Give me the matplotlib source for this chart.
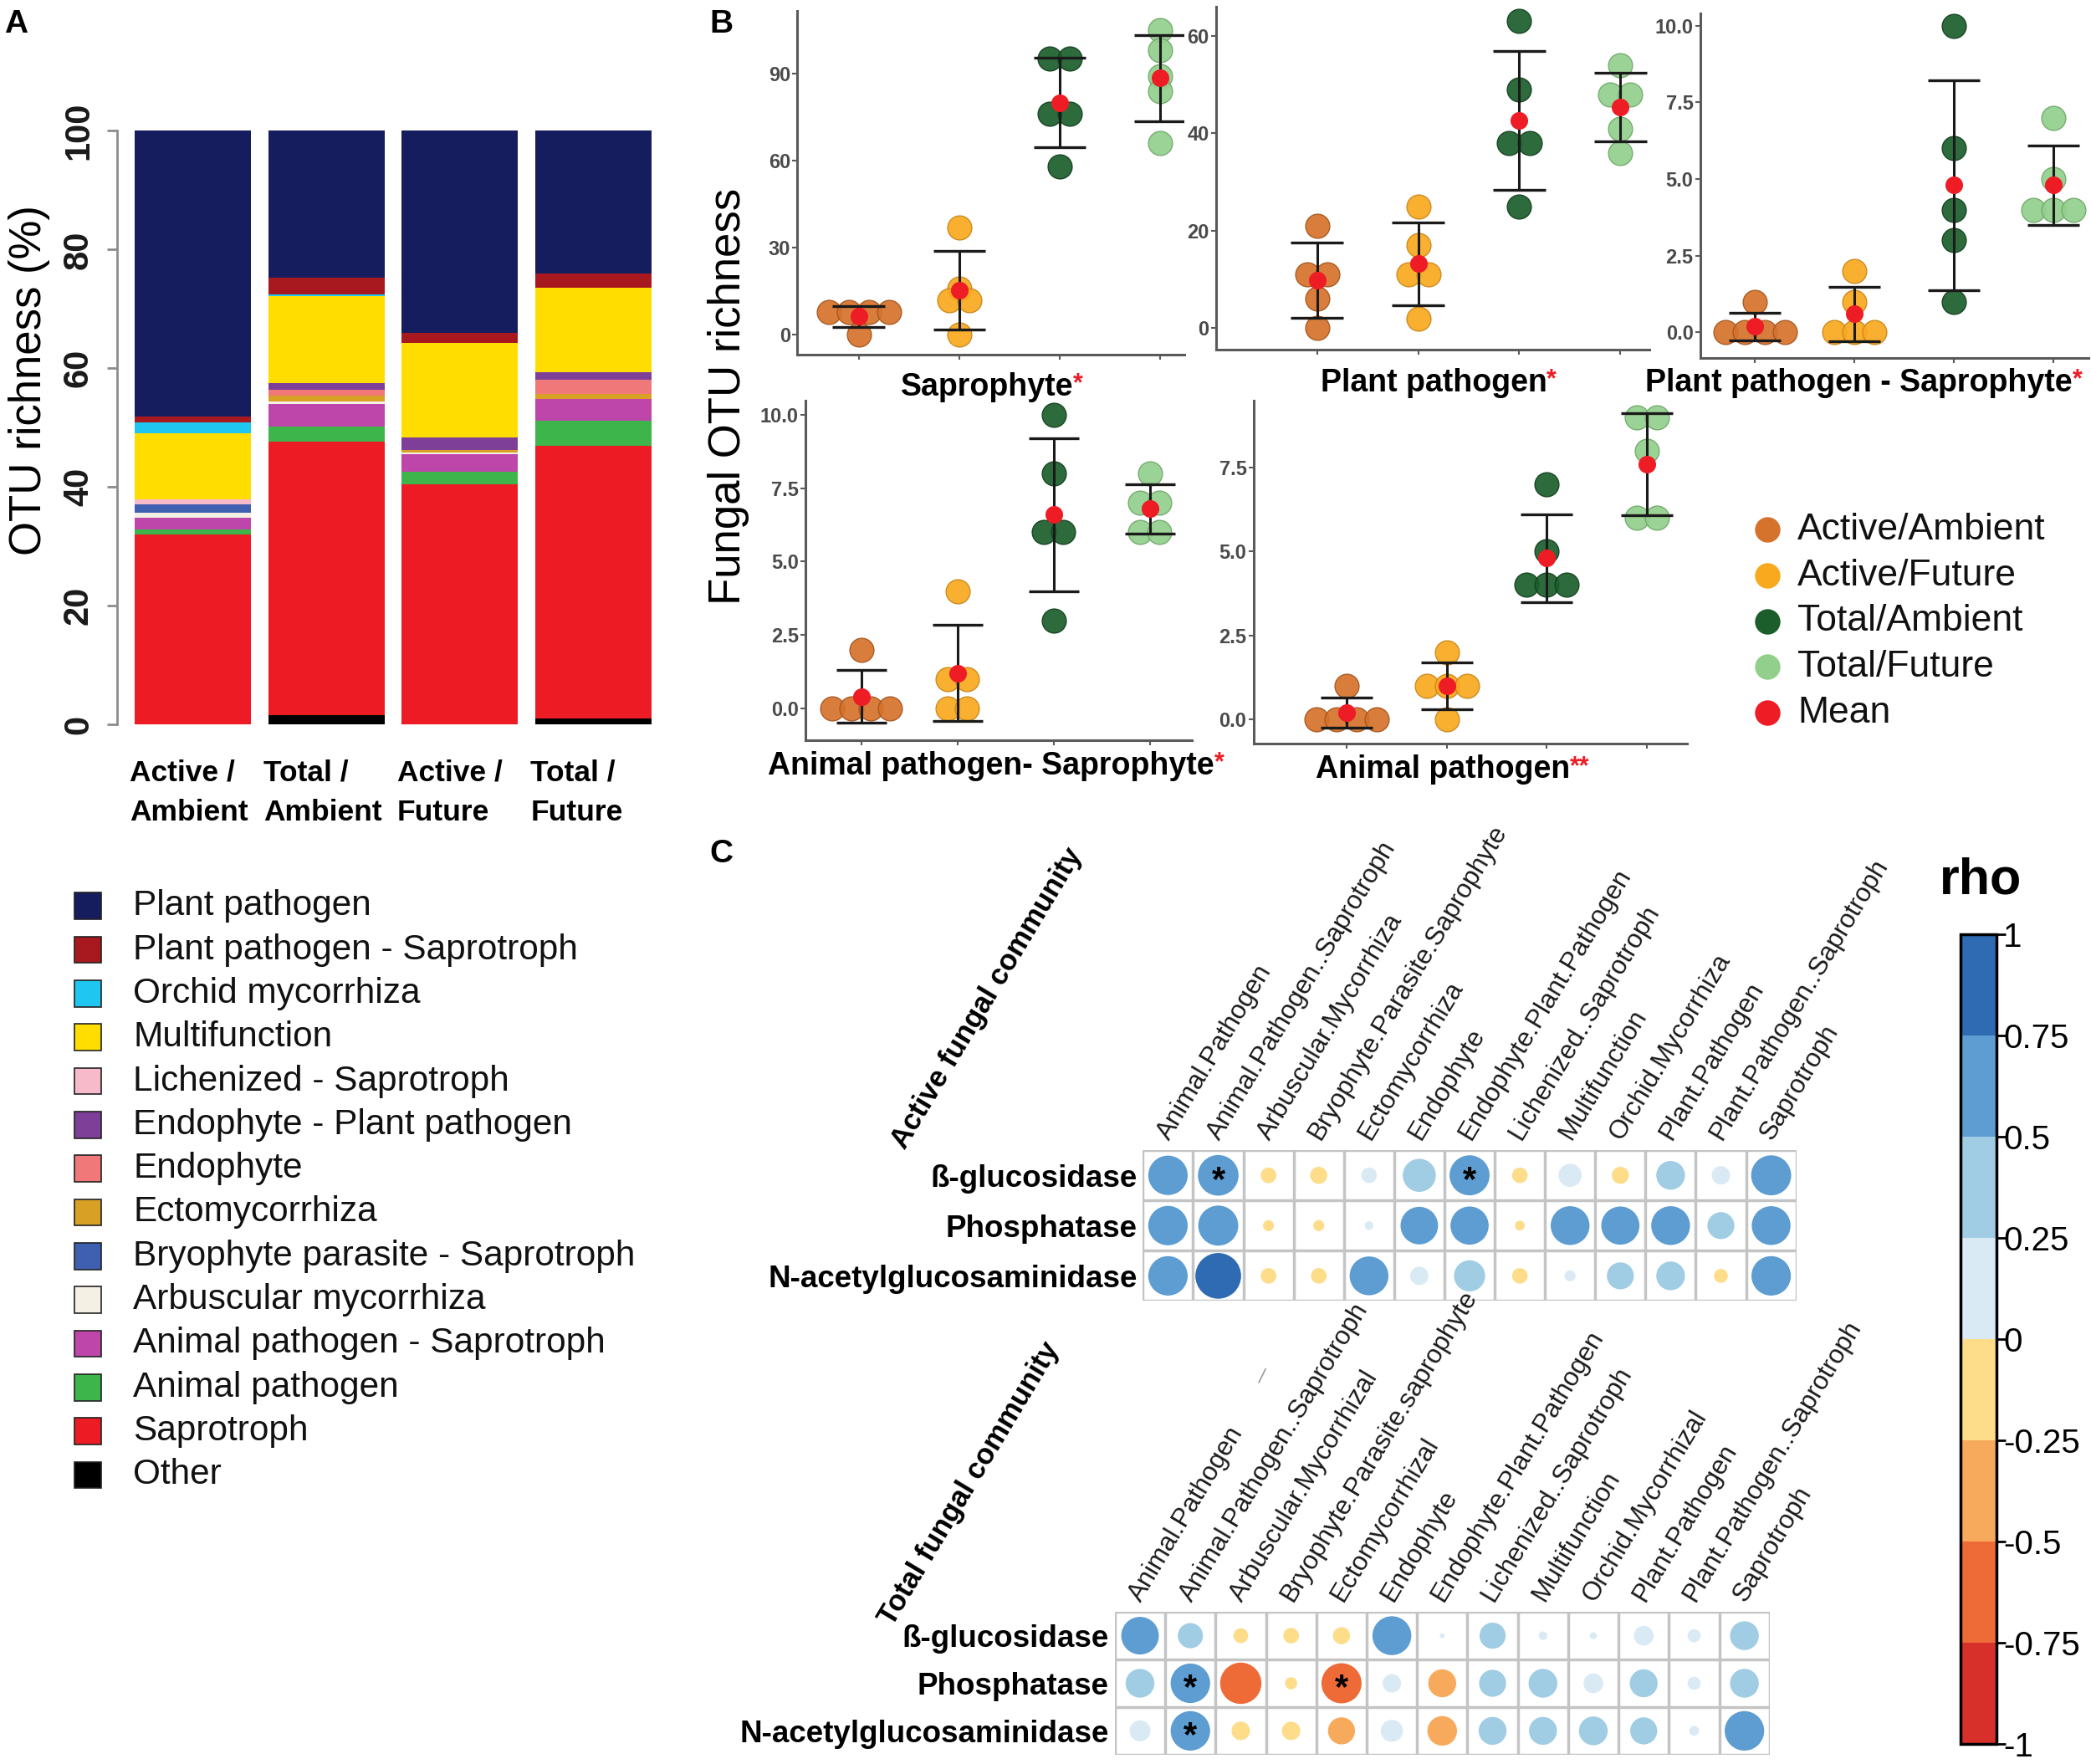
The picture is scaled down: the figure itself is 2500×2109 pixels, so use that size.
import matplotlib
matplotlib.use("Agg")
import matplotlib.pyplot as plt
import numpy as np
from matplotlib.cm import ScalarMappable
from matplotlib.colors import BoundaryNorm, ListedColormap
from matplotlib.patches import Ellipse, Rectangle

plt.rcParams["font.family"] = ["Liberation Sans", "DejaVu Sans"]

# ---------------- panel A: guild composition (% of OTU richness) ----------------
bar_groups = ["Active /\nAmbient", "Total /\nAmbient", "Active /\nFuture", "Total /\nFuture"]
guilds = ["Other", "Saprotroph", "Animal pathogen", "Animal pathogen - Saprotroph",
          "Arbuscular mycorrhiza", "Bryophyte parasite - Saprotroph", "Ectomycorrhiza",
          "Endophyte", "Endophyte - Plant pathogen", "Lichenized - Saprotroph",
          "Multifunction", "Orchid mycorrhiza", "Plant pathogen - Saprotroph", "Plant pathogen"]
guild_colors = ["#000000", "#ED1C24", "#3DB54A", "#BE45AA", "#F5F0E4", "#3F5FB0", "#D8A126",
                "#F07878", "#7E3F98", "#F6BACB", "#FFDD00", "#1EC6F0", "#A8191F", "#161D5E"]
# bottom -> top, same order as guilds
active_ambient = [0.0, 32.0, 0.9, 1.9, 0.9, 1.4, 0.0, 0.0, 0.0, 0.8, 11.1, 1.9, 1.0, 48.1]
total_ambient = [1.6, 46.1, 2.5, 3.8, 0.4, 0.0, 1.0, 1.0, 1.1, 0.0, 14.7, 0.3, 2.7, 24.8]
active_future = [0.0, 40.5, 2.1, 2.9, 0.3, 0.0, 0.4, 0.0, 2.2, 0.0, 15.8, 0.0, 1.7, 34.1]
total_future = [1.0, 46.0, 4.2, 3.7, 0.0, 0.0, 0.8, 2.4, 1.2, 0.0, 14.2, 0.0, 2.5, 24.0]

# ---------------- panel B: OTU richness per replicate ----------------
treatments = ["Active/Ambient", "Active/Future", "Total/Ambient", "Total/Future"]
treat_colors = ["#D5722B", "#F9A91E", "#1B5E2C", "#93CF8C"]
treat_edges = ["#A4561F", "#C9861A", "#123F1E", "#6FA86A"]
mean_color = "#EE1C25"

saprophyte = [[8, 8, 8, 8, 0], [37, 16, 12, 12, 0], [95, 95, 76, 76, 58], [105, 98, 89, 84, 66]]
plant_pathogen = [[21, 11, 11, 6, 0], [25, 17, 11, 11, 2], [63, 49, 38, 38, 25], [54, 48, 48, 41, 36]]
pp_saprophyte = [[0, 0, 0, 0, 1], [0, 0, 0, 1, 2], [10, 6, 4, 3, 1], [7, 5, 4, 4, 4]]
ap_saprophyte = [[0, 0, 0, 0, 2], [4, 1, 1, 0, 0], [10, 8, 6, 6, 3], [8, 7, 7, 6, 6]]
animal_pathogen = [[0, 0, 0, 0, 1], [2, 1, 1, 1, 0], [7, 5, 4, 4, 4], [9, 9, 8, 6, 6]]

# ---------------- panel C: Spearman rho, enzymes vs guild richness ----------------
enzymes = ["ß-glucosidase", "Phosphatase", "N-acetylglucosaminidase"]
active_cols = ["Animal.Pathogen", "Animal.Pathogen..Saprotroph", "Arbuscular.Mycorrhiza",
               "Bryophyte.Parasite.Saprophyte", "Ectomycorrhiza", "Endophyte",
               "Endophyte.Plant.Pathogen", "Lichenized..Saprotroph", "Multifunction",
               "Orchid.Mycorrhiza", "Plant.Pathogen", "Plant.Pathogen..Saprotroph", "Saprotroph"]
total_cols = ["Animal.Pathogen", "Animal.Pathogen..Saprotroph", "Arbuscular.Mycorrhizal",
              "Bryophyte.Parasite.saprophyte", "Ectomycorrhizal", "Endophyte",
              "Endophyte.Plant.Pathogen", "Lichenized..Saprotroph", "Multifunction",
              "Orchid.Mycorrhizal", "Plant.Pathogen", "Plant.Pathogen..Saprotroph", "Saprotroph"]
active_rho = [
    [0.64, 0.68, -0.10, -0.12, 0.10, 0.45, 0.66, -0.10, 0.22, -0.12, 0.34, 0.14, 0.66],
    [0.64, 0.66, -0.05, -0.05, 0.03, 0.58, 0.60, -0.04, 0.62, 0.60, 0.62, 0.30, 0.62],
    [0.64, 0.86, -0.10, -0.10, 0.62, 0.14, 0.40, -0.10, 0.05, 0.30, 0.34, -0.08, 0.64],
]
active_sig = [(0, 1), (0, 6)]
total_rho = [
    [0.58, 0.26, -0.09, -0.10, -0.12, 0.62, 0.01, 0.28, 0.03, 0.02, 0.16, 0.07, 0.34],
    [0.34, 0.64, -0.70, -0.06, -0.66, 0.14, -0.32, 0.30, 0.34, 0.16, 0.32, 0.07, 0.34],
    [0.18, 0.64, -0.14, -0.14, -0.30, 0.20, -0.36, 0.32, 0.32, 0.34, 0.30, 0.04, 0.64],
]
total_sig = [(1, 1), (1, 4), (2, 1)]
rho_bounds = [-1, -0.75, -0.5, -0.25, 0, 0.25, 0.5, 0.75, 1]
rho_colors = ["#D7302A", "#EE6A37", "#F8AA5C", "#FDDD8A", "#DAEAF4", "#A0CDE4", "#5D9DD1", "#2F6BB2"]
rho_ticks = [1, 0.75, 0.5, 0.25, 0, -0.25, -0.5, -0.75, -1]
rho_ticklabels = ["1", "0.75", "0.5", "0.25", "0", "-0.25", "-0.5", "-0.75", "-1"]

# layout is read on a 1568 x 1322 grid of the reference
W, H = 1568.0, 1322.0


def fx(x):
    return x / W


def fy(y):
    return 1 - y / H


def box(x0, y0, x1, y1):
    return [fx(x0), fy(y1), fx(x1) - fx(x0), fy(y0) - fy(y1)]


def dot_offsets(values, step):
    vals = np.asarray(values, dtype=float)
    offs = np.zeros(len(vals))
    for v in np.unique(vals):
        idx = np.where(vals == v)[0]
        offs[idx] = (np.arange(len(idx)) - (len(idx) - 1) / 2) * step
    return offs


fig = plt.figure(figsize=(25, 21.09), dpi=100)

# ---- A: stacked bars
ax_a = fig.add_axes(box(88, 98, 495, 543))
table = np.array([active_ambient, total_ambient, active_future, total_future])
xpos = np.arange(len(bar_groups))
bottom = np.zeros(len(bar_groups))
for k in range(len(guilds)):
    ax_a.bar(xpos, table[:, k], 0.87, bottom=bottom, color=guild_colors[k], linewidth=0)
    bottom += table[:, k]
ax_a.set_xlim(-0.565, 3.5)
ax_a.set_ylim(0, 100)
for side in ["top", "right", "bottom"]:
    ax_a.spines[side].set_visible(False)
ax_a.spines["left"].set_color("#8c8c8c")
ax_a.spines["left"].set_linewidth(2)
ax_a.set_xticks([])
ax_a.set_yticks(range(0, 101, 20))
ax_a.tick_params(axis="y", colors="#8c8c8c", length=9, width=2, labelcolor="#1a1a1a",
                 labelsize=30, pad=10, labelrotation=90)
for lab in ax_a.get_yticklabels():
    lab.set_fontweight("bold")
    lab.set_va("center")
for i, lab in enumerate(bar_groups):
    ax_a.text(xpos[i] - 0.47, -0.058, lab, transform=ax_a.get_xaxis_transform(),
              ha="left", va="top", fontsize=25.5, fontweight="bold", linespacing=1.55)

# ---- B: richness dot plots
def draw_richness(pos, groups, xlim, ylim, yticks, yticklabels):
    ax = fig.add_axes(box(*pos))
    cats = np.arange(1, 5)
    for i, vals in enumerate(groups):
        offs = dot_offsets(vals, 0.2)
        ax.scatter(cats[i] + offs, vals, s=430, color=treat_colors[i], edgecolors=treat_edges[i],
                   linewidths=1.0, alpha=0.92, zorder=2)
        m = np.mean(vals)
        sd = np.std(vals, ddof=1)
        ax.vlines(cats[i], m - sd, m + sd, color="#1a1a1a", lw=2.2, zorder=3)
        ax.hlines([m - sd, m + sd], cats[i] - 0.26, cats[i] + 0.26, color="#1a1a1a", lw=2.4, zorder=3)
        ax.scatter([cats[i]], [m], s=230, color=mean_color, linewidths=0, zorder=4)
    ax.set_xlim(*xlim)
    ax.set_ylim(*ylim)
    ax.set_xticks(cats)
    ax.set_xticklabels([])
    ax.set_yticks(yticks)
    ax.set_yticklabels(yticklabels)
    for side in ["top", "right"]:
        ax.spines[side].set_visible(False)
    for side in ["left", "bottom"]:
        ax.spines[side].set_color("#5a5a5a")
        ax.spines[side].set_linewidth(2.2)
    ax.tick_params(colors="#5a5a5a", length=4, width=1.5, labelcolor="#4a4a4a", labelsize=17, pad=2)
    for lab in ax.get_yticklabels():
        lab.set_fontweight("bold")
    ax.set_facecolor("none")
    return ax


ticks10 = [0, 2.5, 5, 7.5, 10]
labels10 = ["0.0", "2.5", "5.0", "7.5", "10.0"]
draw_richness((598, 8, 888, 266), saprophyte, (0.39, 4.24), (-6.9, 111.6), [0, 30, 60, 90], ["0", "30", "60", "90"])
draw_richness((912, 5, 1237, 262), plant_pathogen, (0.0, 4.29), (-4.4, 66), [0, 20, 40, 60], ["0", "20", "40", "60"])
draw_richness((1275, 10, 1566, 268), pp_saprophyte, (0.45, 4.35), (-0.82, 10.4), ticks10, labels10)
draw_richness((604, 300, 894, 555), ap_saprophyte, (0.42, 4.44), (-1.1, 10.5), ticks10, labels10)
draw_richness((940, 300, 1265, 557), animal_pathogen, (0.07, 4.4), (-0.71, 9.5), ticks10[:4], labels10[:4])

# ---- C: correlation grids
cmap = ListedColormap(rho_colors)
norm = BoundaryNorm(rho_bounds, cmap.N)


def draw_corr(pos, rho, sig, col_labels):
    ax = fig.add_axes(box(*pos))
    rho = np.array(rho)
    nrow, ncol = rho.shape
    cell_w = (pos[2] - pos[0]) / ncol
    cell_h = (pos[3] - pos[1]) / nrow
    ax.set_xlim(0, ncol)
    ax.set_ylim(nrow, 0)
    for i in range(nrow):
        for j in range(ncol):
            d = 0.98 * np.sqrt(abs(rho[i, j]))
            ax.add_patch(Ellipse((j + 0.5, i + 0.5), d, d * cell_w / cell_h,
                                 facecolor=cmap(norm(rho[i, j])), edgecolor="none"))
    for i, j in sig:
        ax.text(j + 0.5, i + 0.62, "*", ha="center", va="center", fontsize=30, fontweight="bold")
    ax.hlines(range(nrow + 1), 0, ncol, color="#c4c4c4", lw=2.5)
    ax.vlines(range(ncol + 1), 0, nrow, color="#c4c4c4", lw=2.5)
    for side in ax.spines:
        ax.spines[side].set_visible(False)
    ax.set_xticks([])
    ax.set_yticks(np.arange(nrow) + 0.5)
    ax.set_yticklabels(enzymes, fontsize=26.5, fontweight="bold")
    ax.tick_params(axis="y", length=0, pad=5)
    for j, lab in enumerate(col_labels):
        ax.annotate(lab, xy=(j + 0.5, 0), xytext=(-4, 11), textcoords="offset points",
                    rotation=59, rotation_mode="anchor", ha="left", va="center",
                    fontsize=22.5, color="#1a1a1a", annotation_clip=False)
    return ax


draw_corr((857, 862, 1347, 975), active_rho, active_sig, active_cols)
draw_corr((836, 1208, 1327, 1315), total_rho, total_sig, total_cols)

cax = fig.add_axes(box(1470, 700, 1497, 1307))
cb = fig.colorbar(ScalarMappable(norm=norm, cmap=cmap), cax=cax, ticks=rho_ticks)
cb.ax.set_yticklabels(rho_ticklabels)
cb.outline.set_linewidth(2.5)
cb.ax.tick_params(length=8, width=2, labelsize=29, pad=-2)

# ---- overlay: panel letters, titles, legends
ov = fig.add_axes([0, 0, 1, 1], facecolor="none")
ov.set_xlim(0, 1)
ov.set_ylim(0, 1)
ov.axis("off")

for letter, (x, y) in zip("ABC", [(12, 18), (541, 18), (541, 640)]):
    ov.text(fx(x), fy(y), letter, ha="center", va="center", fontsize=28, fontweight="bold")

ov.text(fx(22), fy(285), "OTU richness (%)", rotation=90, ha="center", va="center", fontsize=38)
ov.text(fx(546), fy(297), "Fungal OTU richness", rotation=90, ha="center", va="center", fontsize=38)

# legend A
for k, guild in enumerate(guilds[::-1]):
    yc = 679 + k * 32.8
    ov.add_patch(Rectangle((fx(56), fy(yc + 10)), fx(20), fx(20) * W / H,
                           facecolor=guild_colors[::-1][k], edgecolor="#222222", lw=1.2))
    ov.text(fx(100), fy(yc), guild, ha="left", va="center", fontsize=30.5, color="#111111")

# titles B
b_titles = [("Saprophyte", "*", 740, 290), ("Plant pathogen", "*", 1075, 287),
            ("Plant pathogen - Saprophyte", "*", 1394, 287),
            ("Animal pathogen- Saprophyte", "*", 743, 574), ("Animal pathogen", "**", 1082, 577)]
for name, star, x, y in b_titles:
    t = ov.text(fx(x), fy(y), name, ha="center", va="center", fontsize=27, fontweight="bold")
    ov.annotate(star, xy=(1.0, 1.02), xycoords=t, ha="left", va="top", fontsize=22,
                fontweight="bold", color=mean_color)

# legend B
legend_labels = treatments + ["Mean"]
legend_colors = treat_colors + [mean_color]
for k, (lab, col) in enumerate(zip(legend_labels, legend_colors)):
    yc = 397 + k * 34.3
    ov.scatter([fx(1325)], [fy(yc)], s=480, color=col, linewidths=0)
    ov.text(fx(1348), fy(yc), lab, ha="left", va="center", fontsize=32, color="#111111")

# titles C
ov.text(fx(740), fy(748), "Active fungal community", rotation=59, ha="center", va="center",
        fontsize=25, fontweight="bold")
ov.text(fx(727), fy(1112), "Total fungal community", rotation=59, ha="center", va="center",
        fontsize=25, fontweight="bold")
ov.text(fx(1485), fy(660), "rho", ha="center", va="center", fontsize=44, fontweight="bold")
# small stray stroke present in the source figure
ov.plot([fx(944), fx(949)], [fy(1036), fy(1026)], color="#9a9a9a", lw=1.2)

fig.savefig("out.png", dpi=100)
